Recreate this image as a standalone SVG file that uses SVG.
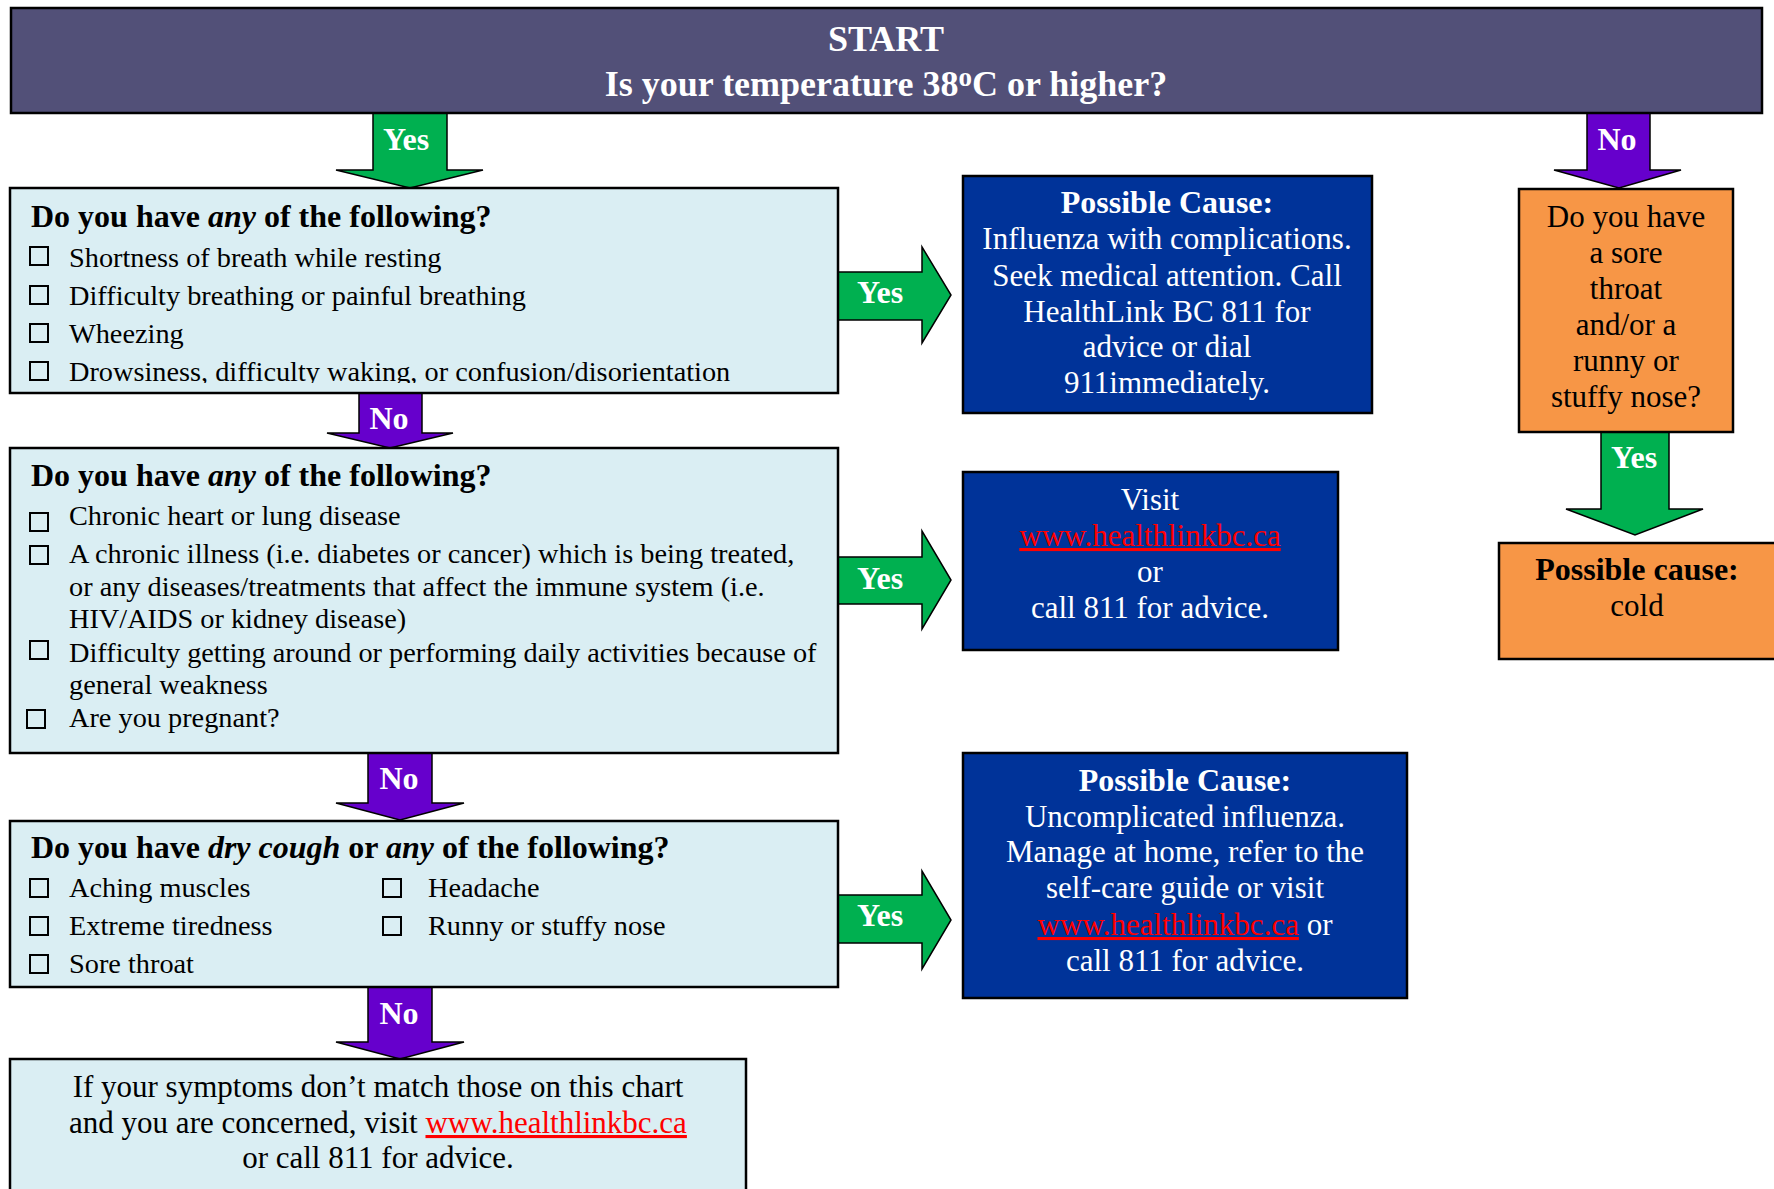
<svg xmlns="http://www.w3.org/2000/svg" width="1774" height="1189" viewBox="0 0 1774 1189">
<defs>
<style>
text { font-family: "Liberation Serif", "Times New Roman", serif; }
.box { stroke:#000; stroke-width:2.5; }
.q { fill:#DAEEF3; }
.db { fill:#003399; }
.or { fill:#F79646; }
.top { fill:#525078; }
.yes { fill:#00B050; stroke:#000; stroke-width:1.5; }
.no { fill:#6600CC; stroke:#000; stroke-width:1.5; }
.lbl { fill:#fff; font-weight:bold; font-size:32px; text-anchor:middle; }
.h { font-size:32px; font-weight:bold; fill:#000; }
.it { font-size:28.3px; fill:#000; }
.cb { fill:none; stroke:#000; stroke-width:2; }
.wt { fill:#fff; font-size:31px; text-anchor:middle; }
.bt { fill:#000; font-size:31px; text-anchor:middle; }
.link { fill:#FF0000; text-decoration:underline; }
.b { font-weight:bold; font-size:32px; }
.bi { font-weight:bold; font-style:italic; }
</style>
<clipPath id="clip1"><rect x="10" y="188" width="828" height="195"/></clipPath>
</defs>
<rect width="1774" height="1189" fill="#fff"/>

<g id="connectors">
  <polygon class="yes" points="373,113 447,113 447,170 483,170 410,188 336,170 373,170"/>
  <text class="lbl" x="406" y="150">Yes</text>
  <polygon class="no" points="1587,113 1650,113 1650,170 1681,170 1619,188 1554,170 1587,170"/>
  <text class="lbl" x="1617" y="150">No</text>
  <polygon class="yes" points="838,272 922,272 922,247 951,295 922,343 922,320 838,320"/>
  <text class="lbl" x="880" y="303">Yes</text>
  <polygon class="no" points="359,393 422,393 422,433 453,433 390,448 327,433 359,433"/>
  <text class="lbl" x="389" y="429">No</text>
  <polygon class="yes" points="838,557 922,557 922,531 951,580 922,629 922,604 838,604"/>
  <text class="lbl" x="880" y="589">Yes</text>
  <polygon class="no" points="368,753 432,753 432,803 464,803 400,820 336,803 368,803"/>
  <text class="lbl" x="399" y="789">No</text>
  <polygon class="yes" points="838,895 922,895 922,871 951,920 922,969 922,943 838,943"/>
  <text class="lbl" x="880" y="926">Yes</text>
  <polygon class="no" points="368,987 432,987 432,1042 464,1042 400,1059 336,1042 368,1042"/>
  <text class="lbl" x="399" y="1024">No</text>
  <polygon class="yes" points="1601,432 1669,432 1669,509 1703,509 1635,535 1566,509 1601,509"/>
  <text class="lbl" x="1634" y="468">Yes</text>
</g>

<g id="start">
  <rect class="box top" x="11" y="8" width="1751" height="105"/>
  <text x="886" y="51" fill="#fff" font-size="36" font-weight="bold" text-anchor="middle">START</text>
  <text x="886" y="96" fill="#fff" font-size="36" font-weight="bold" text-anchor="middle">Is your temperature 38<tspan font-size="27" baseline-shift="38%">o</tspan>C or higher?</text>
</g>

<g id="q1">
  <rect class="box q" x="10" y="188" width="828" height="205"/>
  <text class="h" x="31" y="227">Do you have <tspan class="bi">any</tspan> of the following?</text>
  <rect class="cb" x="30" y="247" width="18" height="18"/>
  <text class="it" x="69" y="267">Shortness of breath while resting</text>
  <rect class="cb" x="30" y="286" width="18" height="18"/>
  <text class="it" x="69" y="305">Difficulty breathing or painful breathing</text>
  <rect class="cb" x="30" y="324" width="18" height="18"/>
  <text class="it" x="69" y="343">Wheezing</text>
  <rect class="cb" x="30" y="362" width="18" height="18"/>
  <text class="it" x="69" y="381" clip-path="url(#clip1)">Drowsiness, difficulty waking, or confusion/disorientation</text>
</g>

<g id="q2">
  <rect class="box q" x="10" y="448" width="828" height="305"/>
  <text class="h" x="31" y="486">Do you have <tspan class="bi">any</tspan> of the following?</text>
  <rect class="cb" x="30" y="513" width="18" height="18"/>
  <text class="it" x="69" y="525">Chronic heart or lung disease</text>
  <rect class="cb" x="30" y="546" width="18" height="18"/>
  <text class="it" x="69" y="563">A chronic illness (i.e. diabetes or cancer) which is being treated,</text>
  <text class="it" x="69" y="596">or any diseases/treatments that affect the immune system (i.e.</text>
  <text class="it" x="69" y="628">HIV/AIDS or kidney disease)</text>
  <rect class="cb" x="30" y="641" width="18" height="18"/>
  <text class="it" x="69" y="662">Difficulty getting around or performing daily activities because of</text>
  <text class="it" x="69" y="694">general weakness</text>
  <rect class="cb" x="27" y="710" width="18" height="18"/>
  <text class="it" x="69" y="727">Are you pregnant?</text>
</g>

<g id="q3">
  <rect class="box q" x="10" y="821" width="828" height="166"/>
  <text class="h" x="31" y="858">Do you have <tspan class="bi">dry cough</tspan> or <tspan class="bi">any</tspan> of the following?</text>
  <rect class="cb" x="30" y="879" width="18" height="18"/>
  <text class="it" x="69" y="897">Aching muscles</text>
  <rect class="cb" x="30" y="917" width="18" height="18"/>
  <text class="it" x="69" y="935">Extreme tiredness</text>
  <rect class="cb" x="30" y="955" width="18" height="18"/>
  <text class="it" x="69" y="973">Sore throat</text>
  <rect class="cb" x="383" y="879" width="18" height="18"/>
  <text class="it" x="428" y="897">Headache</text>
  <rect class="cb" x="383" y="917" width="18" height="18"/>
  <text class="it" x="428" y="935">Runny or stuffy nose</text>
</g>

<g id="final">
  <rect class="box q" x="10" y="1059" width="736" height="170"/>
  <text class="bt" x="378" y="1097">If your symptoms don’t match those on this chart</text>
  <text class="bt" x="378" y="1133">and you are concerned, visit <tspan class="link">www.healthlinkbc.ca</tspan></text>
  <text class="bt" x="378" y="1168">or call 811 for advice.</text>
</g>

<g id="cause-complications">
  <rect class="box db" x="963" y="176" width="409" height="237"/>
  <text class="wt b" x="1167" y="213">Possible Cause:</text>
  <text class="wt" x="1167" y="249">Influenza with complications.</text>
  <text class="wt" x="1167" y="286">Seek medical attention. Call</text>
  <text class="wt" x="1167" y="322">HealthLink BC 811 for</text>
  <text class="wt" x="1167" y="357">advice or dial</text>
  <text class="wt" x="1167" y="393">911immediately.</text>
</g>

<g id="visit">
  <rect class="box db" x="963" y="472" width="375" height="178"/>
  <text class="wt" x="1150" y="510">Visit</text>
  <text class="wt link" x="1150" y="546">www.healthlinkbc.ca</text>
  <text class="wt" x="1150" y="582">or</text>
  <text class="wt" x="1150" y="618">call 811 for advice.</text>
</g>

<g id="cause-uncomplicated">
  <rect class="box db" x="963" y="753" width="444" height="245"/>
  <text class="wt b" x="1185" y="791">Possible Cause:</text>
  <text class="wt" x="1185" y="827">Uncomplicated influenza.</text>
  <text class="wt" x="1185" y="862">Manage at home, refer to the</text>
  <text class="wt" x="1185" y="898">self-care guide or visit</text>
  <text class="wt" x="1185" y="935"><tspan class="link">www.healthlinkbc.ca</tspan> or</text>
  <text class="wt" x="1185" y="971">call 811 for advice.</text>
</g>

<g id="sore-throat">
  <rect class="box or" x="1519" y="189" width="214" height="243"/>
  <text class="bt" x="1626" y="227">Do you have</text>
  <text class="bt" x="1626" y="263">a sore</text>
  <text class="bt" x="1626" y="299">throat</text>
  <text class="bt" x="1626" y="335">and/or a</text>
  <text class="bt" x="1626" y="371">runny or</text>
  <text class="bt" x="1626" y="407">stuffy nose?</text>
</g>

<g id="cause-cold">
  <rect class="box or" x="1499" y="543" width="300" height="116"/>
  <text class="bt b" x="1637" y="580">Possible cause:</text>
  <text class="bt" x="1637" y="616">cold</text>
</g>
</svg>
